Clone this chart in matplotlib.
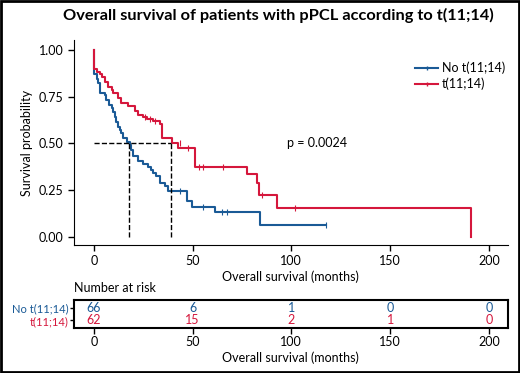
import matplotlib.pyplot as plt
from matplotlib.patches import Rectangle

plt.rcParams['font.family'] = ['Lato', 'DejaVu Sans']

BLUE = '#1a5a96'
RED = '#d5173c'

# Kaplan-Meier steps (time in months, survival)
no_t_time = [0, 0.3, 1.4, 2.2, 3.4, 5.6, 6.4, 7.8, 9.0, 9.8, 10.6, 11.5, 12.3, 13.2,
             14.0, 14.9, 16.6, 18.2, 19.1, 19.9, 22.5, 25.0, 27.5, 29.2, 30.1, 31.4,
             33.5, 36.0, 37.7, 47.0, 49.5, 61.3, 84.1, 117.6]
no_t_surv = [1.0, 0.875, 0.848, 0.822, 0.768, 0.759, 0.733, 0.706, 0.688, 0.670, 0.643,
             0.617, 0.590, 0.572, 0.554, 0.528, 0.510, 0.492, 0.465, 0.430, 0.403, 0.390,
             0.376, 0.358, 0.340, 0.323, 0.287, 0.269, 0.242, 0.189, 0.157, 0.130, 0.064,
             0.064]
no_t_cens_t = [43.6, 55.4, 64.7, 67.3, 117.6]
no_t_cens_s = [0.242, 0.157, 0.130, 0.130, 0.064]

t_time = [0, 0.3, 1.7, 3.0, 4.4, 5.6, 7.3, 9.0, 9.8, 12.3, 14.0, 17.4, 20.8, 22.5,
          25.0, 26.7, 30.1, 33.4, 34.3, 39.4, 42.7, 51.2, 77.4, 82.5, 83.8, 92.6,
          190.7, 190.7]
t_surv = [1.0, 0.897, 0.884, 0.875, 0.857, 0.831, 0.804, 0.786, 0.768, 0.742, 0.715,
          0.700, 0.676, 0.652, 0.640, 0.629, 0.620, 0.604, 0.528, 0.501, 0.474, 0.376,
          0.335, 0.287, 0.225, 0.153, 0.153, 0.0]
t_cens_t = [26.0, 28.5, 31.0, 43.6, 47.8, 53.4, 55.4, 65.5, 85.0, 101.9]
t_cens_s = [0.640, 0.629, 0.620, 0.501, 0.474, 0.376, 0.376, 0.376, 0.225, 0.153]

median_no_t = 17.9
median_t = 38.9
p_text = 'p = 0.0024'

risk_times = [0, 50, 100, 150, 200]
risk_no_t = [66, 6, 1, 0, 0]
risk_t = [62, 15, 2, 1, 0]
groups = ['No t(11;14)', 't(11;14)']

fig = plt.figure(figsize=(5.2, 3.73), dpi=100)
ax = fig.add_axes([0.1423, 0.3432, 0.834, 0.5496])

ax.step(no_t_time, no_t_surv, where='post', color=BLUE, lw=1.5)
ax.step(t_time, t_surv, where='post', color=RED, lw=1.5)
ax.plot(no_t_cens_t, no_t_cens_s, ls='none', marker='|', ms=4, mew=0.8, color=BLUE)
ax.plot(t_cens_t, t_cens_s, ls='none', marker='|', ms=4, mew=0.8, color=RED)

# legend handles
ax.plot([], [], color=BLUE, lw=1.5, marker='|', ms=3, label=groups[0])
ax.plot([], [], color=RED, lw=1.5, marker='|', ms=3, label=groups[1])
ax.legend(loc='upper right', bbox_to_anchor=(1.005, 0.92), frameon=False, fontsize=9,
          handlelength=1.9, handletextpad=0.25, labelspacing=0.3, borderaxespad=0)

ax.plot([0, median_t], [0.5, 0.5], color='black', ls='--', lw=1)
ax.plot([median_no_t, median_no_t], [0, 0.5], color='black', ls='--', lw=1)
ax.plot([median_t, median_t], [0, 0.5], color='black', ls='--', lw=1)

ax.text(98, 0.5, p_text, fontsize=9, va='center')

ax.set_xlim(-10, 209.5)
ax.set_ylim(-0.045, 1.055)
ax.set_xticks(risk_times)
ax.set_yticks([0, 0.25, 0.5, 0.75, 1.0])
ax.set_yticklabels(['0.00', '0.25', '0.50', '0.75', '1.00'])
ax.set_xlabel('Overall survival (months)', fontsize=9, labelpad=2)
ax.set_ylabel('Survival probability', fontsize=9, labelpad=4)
ax.tick_params(labelsize=9, width=1, length=4)
ax.spines['top'].set_visible(False)
ax.spines['right'].set_visible(False)

# risk table
rax = fig.add_axes([0.1423, 0.1206, 0.834, 0.0751])
for x, n in zip(risk_times, risk_no_t):
    rax.text(x, 2, str(n), color=BLUE, ha='center', va='center', fontsize=9)
for x, n in zip(risk_times, risk_t):
    rax.text(x, 1, str(n), color=RED, ha='center', va='center', fontsize=9)
rax.set_xlim(-10, 209.5)
rax.set_ylim(0.4, 2.6)
rax.set_xticks(risk_times)
rax.set_yticks([2, 1])
rax.set_yticklabels(groups)
rax.tick_params(labelsize=9, width=1, length=4, pad=2)
rax.tick_params(axis='y', labelsize=8, length=3, pad=1)
rax.get_yticklabels()[0].set_color(BLUE)
rax.get_yticklabels()[1].set_color(RED)
for s in rax.spines.values():
    s.set_linewidth(1.5)
rax.set_xlabel('Overall survival (months)', fontsize=9, labelpad=2)

fig.text(0.1423, 1 - 288 / 373, 'Number at risk', fontsize=9, va='center')
fig.text(0.535, 0.958, 'Overall survival of patients with pPCL according to t(11;14)',
         fontsize=11.8, fontweight='bold', ha='center', va='center')

fig.patches.append(Rectangle((0.002, 0.003), 0.996, 0.994, transform=fig.transFigure,
                             fill=False, edgecolor='black', lw=2))

fig.savefig('out.png', dpi=100)
